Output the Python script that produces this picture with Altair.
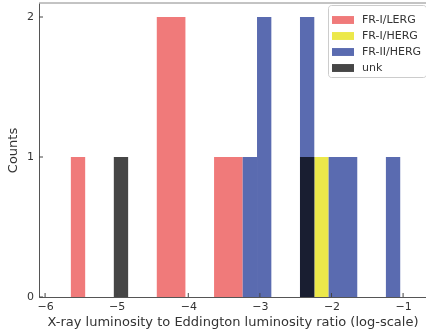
import altair as alt
import pandas as pd

series = ["FR-I/LERG", "FR-I/HERG", "FR-II/HERG", "unk"]
colors = ["#f07a7a", "#ece84a", "#5a6bb0", "#464646"]

# bar bins: (series, start, end, count)
bar_series = ["FR-I/LERG", "FR-I/LERG", "FR-I/LERG",
              "FR-I/HERG",
              "FR-II/HERG", "FR-II/HERG", "FR-II/HERG", "FR-II/HERG", "FR-II/HERG",
              "unk", "unk"]
bin_start = [-5.64, -4.44, -3.64,
             -2.24,
             -3.24, -3.04, -2.44, -2.04, -1.24,
             -5.04, -2.44]
bin_end = [-5.44, -4.04, -3.24,
           -2.04,
           -3.04, -2.84, -2.24, -1.64, -1.04,
           -4.84, -2.24]
counts = [1, 2, 1,
          1,
          1, 2, 2, 1, 1,
          1, 1]

x_ticks = [-6, -5, -4, -3, -2, -1]
y_ticks = [0, 1, 2]
y_tick_labels = ["0", "1", "2"]

df = pd.DataFrame({"series": bar_series, "start": bin_start, "end": bin_end, "count": counts})
df["base"] = 0

W, H = 387, 294
xscale = alt.Scale(domain=[-6.085, -0.68], nice=False, zero=False)
yscale = alt.Scale(domain=[0, 2.1], nice=False)
cscale = alt.Scale(domain=series, range=colors)

xaxis = alt.Axis(values=x_ticks, format="d", ticks=False, grid=False, labelOverlap=False,
                 title="X-ray luminosity to Eddington luminosity ratio (log-scale)",
                 labelPadding=3, titlePadding=4)
yaxis = alt.Axis(values=y_ticks, ticks=False, grid=False, labels=False,
                 title="Counts", titlePadding=20)

enc = dict(
    x=alt.X("start:Q", scale=xscale, axis=xaxis),
    x2="end:Q",
    y=alt.Y("count:Q", scale=yscale, axis=yaxis),
    y2="base:Q",
    color=alt.Color("series:N", scale=cscale,
                    legend=alt.Legend(title=None, orient="none", legendX=289, legendY=2,
                                      symbolType="M-1,-0.36H1V0.36H-1Z", symbolSize=484,
                                      symbolStrokeWidth=0, labelFontSize=11, labelColor="#333",
                                      labelFont="DejaVu Sans", padding=4, rowPadding=0,
                                      strokeColor="#cccccc", cornerRadius=3, fillColor="white",
                                      labelOffset=8)),
)

base = alt.Chart(df)
bars = base.mark_rect(strokeWidth=0).encode(**enc).transform_filter(alt.datum.series != "unk")
unk = base.mark_rect(strokeWidth=0, blend="multiply").encode(**enc).transform_filter(alt.datum.series == "unk")

xt = alt.Chart(pd.DataFrame({"start": x_ticks})).mark_rule(color="#444", strokeWidth=1).encode(
    x=alt.X("start:Q", scale=xscale, axis=xaxis), y=alt.value(H), y2=alt.value(H - 4))
ydf = pd.DataFrame({"count": y_ticks, "label": y_tick_labels})
yt = alt.Chart(ydf).mark_rule(color="#444", strokeWidth=1).encode(
    y=alt.Y("count:Q", scale=yscale, axis=yaxis), x=alt.value(0), x2=alt.value(4))
ylab = alt.Chart(ydf).mark_text(align="right", baseline="middle", fontSize=11,
                                font="DejaVu Sans", color="#333").encode(
    y=alt.Y("count:Q", scale=yscale, axis=yaxis), x=alt.value(-5), text="label:N")
top = alt.Chart(pd.DataFrame({"t": [0]})).mark_rule(color="#888", strokeWidth=1).encode(
    x=alt.value(0), x2=alt.value(W), y=alt.value(0))

chart = alt.layer(bars, unk, xt, yt, ylab, top).properties(
    width=W, height=H,
    autosize=alt.AutoSizeParams(type="none"),
    padding={"left": 39, "top": 3, "right": 0, "bottom": 38},
).configure_view(stroke=None).configure_axis(
    domainColor="#555", labelFont="DejaVu Sans", titleFont="DejaVu Sans",
    labelFontSize=11, titleFontSize=13, labelColor="#333", titleColor="#333",
    titleFontWeight="normal",
)

chart.save("out.html", embed_options={"renderer": "svg", "actions": False})
